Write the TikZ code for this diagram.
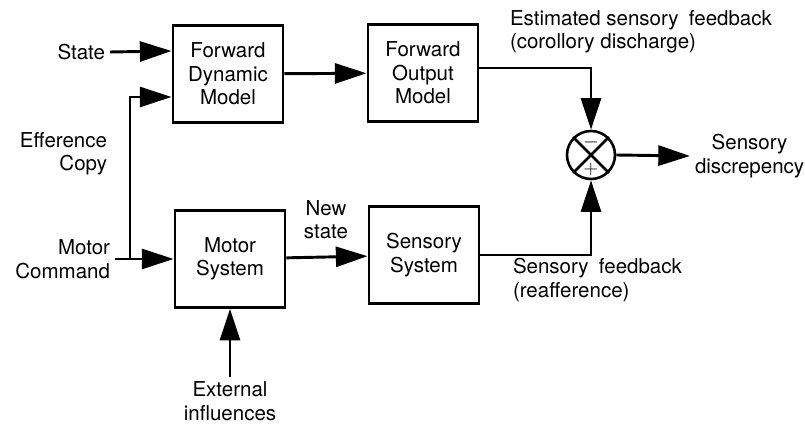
\documentclass[tikz,border=0pt]{standalone}
\usepackage{fontspec}
\setmainfont{TeX Gyre Heros}
\usetikzlibrary{arrows.meta}

\begin{document}
\begin{tikzpicture}[x=0.3mm, y=-0.3mm, line width=2.5pt,
	>={Triangle[length=9.5mm,width=6mm]},
	block/.style={draw, minimum width=33mm, minimum height=29mm, align=center, inner sep=0pt},
	txt/.style={inner sep=0pt, outer sep=1.5mm}]
	\fontsize{17.5}{20}\selectfont
	\useasboundingbox (0,0) rectangle (805,425);
	
	\node[block] (fdm) at (228,74) {Forward\\Dynamic\\Model};
	\node[block] (fom) at (423,73) {Forward\\Output\\Model};
	\node[block] (ms) at (230,259) {Motor\\System};
	\node[block] (ss) at (424,255) {Sensory\\System};
	\node[draw, circle, minimum size=14.4mm, inner sep=0pt, line width=2.2pt] (cmp) at (591,155) {};
	\draw[line width=2.2pt] (cmp.north west)--(cmp.south east) (cmp.north east)--(cmp.south west);
	\node[font=\fontsize{16}{16}\selectfont] at ([yshift=3.9mm]cmp.center) {$-$};
	\node[font=\fontsize{16}{16}\selectfont] at ([yshift=-4.3mm]cmp.center) {$+$};
	
	\node[txt, anchor=east] (state) at (110,52) {State};
	\node[txt, anchor=east, align=right] (efc) at (112,154) {Efference\\Copy};
	\node[txt, anchor=east, align=right] (mc) at (115,259) {Motor\\Command};
	\node[txt, anchor=south, align=center] (newst) at (326,244) {New\\state};
	\node[txt, anchor=north, align=center] (ext) at (230,377) {External\\influences};
	\node[txt, anchor=west, align=left] (est) at (505,32) {Estimated sensory\enspace feedback\\(corollory discharge)};
	\node[txt, anchor=west, align=left] (sfb) at (508,280) {Sensory\enspace feedback\\(reafference)};
	\node[txt, anchor=west, align=center] (disc) at (690,156) {Sensory\\discrepency};
	\coordinate (split) at (130,259);
	
	\draw[->] (state.east)--([yshift=6.9mm]fdm.west);
	\draw[->] (split) |- ([yshift=-6.9mm]fdm.west);
	\draw[->] (mc.east)--(ms.west);
	\draw[->] (fdm)--(fom);
	\draw[->] (ms)--(ss);
	\draw[->] (ext.north)--(ms.south);
	\draw[->] ([yshift=1.5mm]fom.east) -| (cmp.north);
	\draw[->] (ss.east) -| (cmp.south);
	\draw[->] (cmp.east)--(disc.west);
\end{tikzpicture}
\end{document}
